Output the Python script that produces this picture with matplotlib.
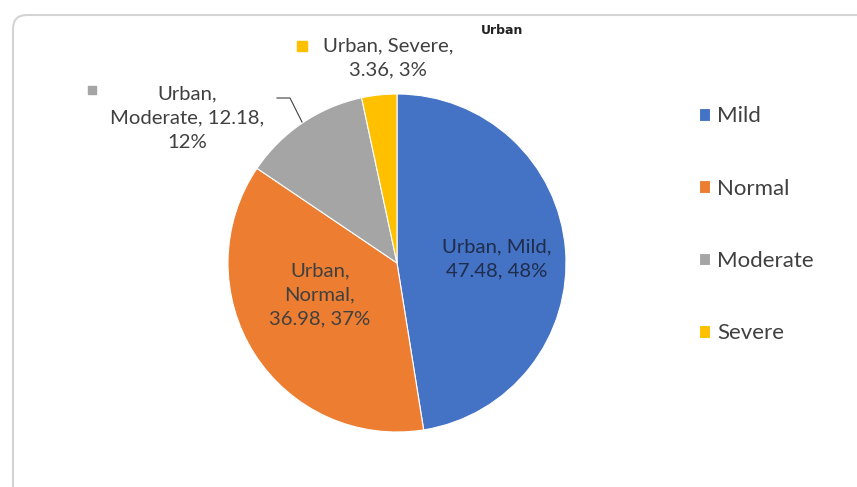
import matplotlib.pyplot as plt
from matplotlib.patches import FancyBboxPatch

# data
categories = ['Mild', 'Normal', 'Moderate', 'Severe']
values = [47.48, 36.98, 12.18, 3.36]
percents = ['48%', '37%', '12%', '3%']
colors = ['#4472C4', '#ED7D31', '#A5A5A5', '#FFC000']
group = 'Urban'

W, H = 857, 487
plt.rcParams['font.family'] = ['Lato', 'DejaVu Sans']

fig = plt.figure(figsize=(W / 100, H / 100), dpi=100)
ax = fig.add_axes([0, 0, 1, 1])


def py(y):
    # pixel row (top-down) -> data y
    return H - y


wedges, _ = ax.pie(values, colors=colors, startangle=90, counterclock=False,
                   center=(397, py(263)), radius=169, frame=True,
                   wedgeprops=dict(edgecolor='white', linewidth=0.8))
ax.set_xlim(0, W)
ax.set_ylim(0, H)
ax.set_aspect('equal')
ax.axis('off')

# chart border
border = FancyBboxPatch((13, py(520)), 900, 505,
                        boxstyle='round,pad=0,rounding_size=14',
                        transform=ax.transData, facecolor='none',
                        edgecolor='#d4d4d4', linewidth=1.5, zorder=0)
ax.add_patch(border)

ax.text(502, py(30), group, fontsize=9, fontweight='bold', color='#222222',
        ha='center', va='center', family='DejaVu Sans')

txt = dict(fontsize=14.6, ha='center', va='center', linespacing=1.5)
grey = '#404040'

# data labels
ax.text(497, py(259), f"{group}, {categories[0]},\n{values[0]:.2f}, {percents[0]}",
        color='#1f2d4d', **txt)
ax.text(320, py(295), f"{group},\n{categories[1]},\n{values[1]:.2f}, {percents[1]}",
        color=grey, **txt)
ax.text(187, py(118), f"{group},\n{categories[2]}, {values[2]:.2f},\n{percents[2]}",
        color=grey, **txt)
ax.text(388, py(58), f"{group}, {categories[3]},\n{values[3]:.2f}, {percents[3]}",
        color=grey, **txt)

# label keys
ax.plot([92], [py(90)], marker='s', markersize=6, color=colors[2], linestyle='none')
ax.plot([302], [py(46)], marker='s', markersize=7, color=colors[3], linestyle='none')

# leader line for Moderate
ax.plot([277, 290, 302], [py(98), py(98), py(122)], color=grey, linewidth=0.8)

leg = fig.legend(wedges, categories, loc='upper left',
                 bbox_to_anchor=(688 / W, 1 - 95 / H), frameon=False,
                 fontsize=16, labelspacing=2.36, handlelength=0.5,
                 handleheight=0.5, handletextpad=0.3, labelcolor=grey,
                 borderpad=0)

fig.savefig('out.png', dpi=100, facecolor='white')
